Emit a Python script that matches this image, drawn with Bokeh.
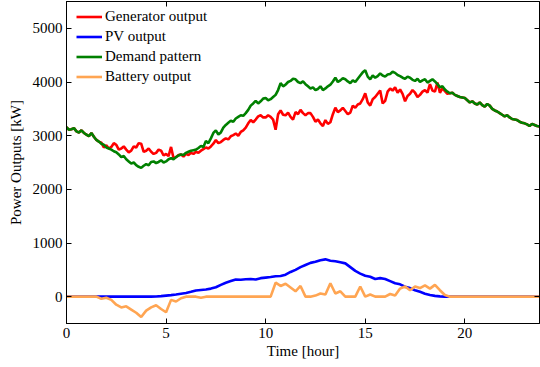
from bokeh.plotting import figure
from bokeh.models import Range1d, LinearAxis, FixedTicker, Legend, LegendItem
from bokeh.embed import file_html
from bokeh.resources import INLINE

# demand and generator: 7.5-min steps (8 values per hour row), 0 .. 23.75 h
demand_rows = [
    [3160, 3110, 3120, 3140, 3080, 3060, 3100, 3050],
    [3020, 2990, 3050, 2980, 2920, 2890, 2850, 2830],
    [2780, 2760, 2740, 2710, 2690, 2650, 2600, 2620],
    [2560, 2520, 2480, 2500, 2450, 2420, 2400, 2440],
    [2470, 2450, 2510, 2520, 2490, 2510, 2540, 2500],
    [2520, 2560, 2580, 2560, 2600, 2630, 2650, 2640],
    [2680, 2700, 2720, 2730, 2740, 2770, 2810, 2790],
    [2900, 2860, 2950, 3050, 3100, 3020, 3060, 3150],
    [3200, 3240, 3280, 3260, 3320, 3350, 3380, 3370],
    [3420, 3480, 3560, 3600, 3650, 3600, 3640, 3690],
    [3700, 3660, 3680, 3720, 3760, 3850, 3980, 3920],
    [3950, 4000, 4020, 4060, 4050, 4000, 3980, 4010],
    [3960, 3920, 3880, 3900, 3850, 3870, 3920, 3850],
    [3880, 3920, 3950, 4010, 4080, 4000, 4030, 4070],
    [4050, 4010, 3980, 4030, 4000, 4060, 4120, 4180],
    [4220, 4100, 4050, 4120, 4080, 4110, 4160, 4120],
    [4100, 4140, 4150, 4190, 4170, 4130, 4110, 4080],
    [4060, 4100, 4080, 4040, 4020, 4060, 4000, 4030],
    [4050, 3990, 4020, 4050, 4010, 3960, 3900, 3920],
    [3860, 3820, 3790, 3800, 3760, 3740, 3720, 3710],
    [3700, 3660, 3620, 3640, 3600, 3580, 3620, 3570],
    [3540, 3590, 3560, 3500, 3470, 3450, 3420, 3390],
    [3360, 3380, 3340, 3310, 3300, 3290, 3260, 3240],
    [3230, 3210, 3180, 3220, 3200, 3180, 3170],
]

generator_rows = [
    [3160, 3110, 3120, 3140, 3080, 3060, 3100, 3050],
    [3020, 2990, 3050, 2980, 2920, 2890, 2870, 2780],
    [2820, 2760, 2790, 2860, 2830, 2740, 2760, 2800],
    [2740, 2690, 2720, 2800, 2780, 2860, 2850, 2700],
    [2720, 2760, 2700, 2660, 2680, 2740, 2720, 2630],
    [2660, 2620, 2790, 2580, 2600, 2640, 2650, 2610],
    [2660, 2640, 2680, 2660, 2700, 2680, 2720, 2750],
    [2780, 2760, 2800, 2850, 2920, 2860, 2880, 2920],
    [2950, 2930, 2990, 3010, 3040, 3000, 3070, 3100],
    [3150, 3230, 3290, 3250, 3300, 3360, 3380, 3340],
    [3340, 3380, 3350, 3300, 3110, 3400, 3470, 3390],
    [3380, 3430, 3350, 3300, 3440, 3400, 3480, 3420],
    [3380, 3420, 3420, 3350, 3260, 3300, 3230, 3180],
    [3290, 3220, 3250, 3400, 3520, 3440, 3470, 3520],
    [3460, 3400, 3430, 3560, 3520, 3580, 3600, 3680],
    [3790, 3620, 3560, 3680, 3720, 3780, 3840, 3600],
    [3650, 3820, 3880, 3840, 3900, 3800, 3860, 3780],
    [3640, 3740, 3780, 3850, 3800, 3720, 3760, 3820],
    [3850, 3800, 3960, 3840, 3820, 3990, 3800, 3880],
    [3830, 3780, 3790, 3800, 3760, 3740, 3720, 3710],
    [3700, 3660, 3620, 3640, 3600, 3580, 3620, 3570],
    [3540, 3590, 3560, 3500, 3470, 3450, 3420, 3390],
    [3360, 3380, 3340, 3310, 3300, 3290, 3260, 3240],
    [3230, 3210, 3180, 3220, 3200, 3180, 3170],
]

demand = [v for row in demand_rows for v in row]
generator = [v for row in generator_rows for v in row]
hours_fine = [i * 0.125 for i in range(len(demand))]

# PV and battery: 15-min steps
pv = [0, 0, 0, 0, 0, 0, 0, 0, 0, 0, 0, 0,
      0, 0, 0, 0, 0, 0, 3, 10, 20, 28, 40, 55,
      70, 90, 115, 125, 135, 150, 175, 220, 260, 290, 320, 315,
      325, 330, 320, 345, 355, 365, 380, 385, 410, 460, 500, 550,
      590, 630, 650, 680, 695, 670, 660, 640, 620, 550, 480, 430,
      390, 370, 330, 345, 330, 290, 250, 230, 185, 160, 120, 90,
      55, 30, 15, 5, 0, 0, 0, 0, 0, 0, 0, 0,
      0, 0, 0, 0, 0, 0, 0, 0, 0, 0, 0, 0]

battery = [0, 0, 0, 0, 0, 0, 0, -40, -20, -60, -150, -200,
           -180, -240, -300, -380, -260, -200, -160, -230, -290, -60, -90, -30,
           0, 0, 0, -20, 0, 0, 0, 0, 0, 0, 0, 0,
           0, 0, 0, 0, 0, 0, 260, 200, 240, 170, 100, 200,
           0, 0, 20, 60, 40, 250, 60, 100, 0, 0, 0, 190,
           0, 40, 0, 0, 0, 50, 20, 150, 190, 120, 190, 160,
           210, 150, 220, 120, 30, 0, 0, 0, 0, 0, 0, 0,
           0, 0, 0, 0, 0, 0, 0, 0, 0, 0, 0, 0]
hours = [i * 0.25 for i in range(len(pv))]

x_ticks = [0, 5, 10, 15, 20]
y_ticks = [0, 1000, 2000, 3000, 4000, 5000]

FONT = "'Liberation Serif', 'Times New Roman', 'DejaVu Serif', serif"

p = figure(width=540, height=367, output_backend="svg", toolbar_location=None,
           x_range=Range1d(0, 23.75), y_range=Range1d(-500, 5500),
           min_border_left=66, min_border_right=1, min_border_top=1, min_border_bottom=44)
p.xgrid.visible = False
p.ygrid.visible = False
p.outline_line_color = "black"

r_gen = p.line(hours_fine, generator, line_color="#ff0000", line_width=2.6)
r_pv = p.line(hours, pv, line_color="#0000ff", line_width=2.6)
r_dem = p.line(hours_fine, demand, line_color="#008000", line_width=2.6)
r_bat = p.line(hours, battery, line_color="#ffa552", line_width=2.6)

def style(ax, ticks, labels=True):
    ax.ticker = FixedTicker(ticks=ticks)
    ax.major_tick_in = 5
    ax.major_tick_out = 0
    ax.minor_tick_line_color = None
    ax.axis_line_color = "black"
    ax.major_tick_line_color = "black"
    ax.major_label_text_font = FONT
    ax.axis_label_text_font = FONT
    ax.axis_label_text_font_style = "normal"
    ax.axis_label_text_color = "black"
    if labels:
        ax.major_label_text_color = "black"
        ax.major_label_text_font_size = "15px"
        ax.axis_label_text_font_size = "15px"
        ax.major_label_standoff = 4
    else:
        ax.major_label_text_color = None
        ax.major_label_text_font_size = "1px"
        ax.major_label_standoff = 0

style(p.xaxis[0], x_ticks)
style(p.yaxis[0], y_ticks)
p.xaxis[0].axis_label = "Time [hour]"
p.yaxis[0].axis_label = "Power Outputs [kW]"
p.xaxis[0].axis_label_standoff = 2
p.yaxis[0].axis_label_standoff = 6

top = LinearAxis()
style(top, x_ticks, labels=False)
p.add_layout(top, "above")
right = LinearAxis()
style(right, y_ticks, labels=False)
p.add_layout(right, "right")

legend = Legend(items=[
    LegendItem(label="Generator output", renderers=[r_gen]),
    LegendItem(label="PV output", renderers=[r_pv]),
    LegendItem(label="Demand pattern", renderers=[r_dem]),
    LegendItem(label="Battery output", renderers=[r_bat]),
], location="top_left")
legend.label_text_font = FONT
legend.label_text_font_size = "15px"
legend.label_text_color = "black"
legend.border_line_color = None
legend.background_fill_alpha = 0
legend.glyph_width = 26
legend.glyph_height = 19
legend.label_height = 19
legend.spacing = 1
legend.label_standoff = 3
legend.margin = 0
legend.padding = 0
legend.location = (10, 322 - 6 - 79)
p.add_layout(legend)

open("out.html", "w").write(file_html(p, INLINE))
